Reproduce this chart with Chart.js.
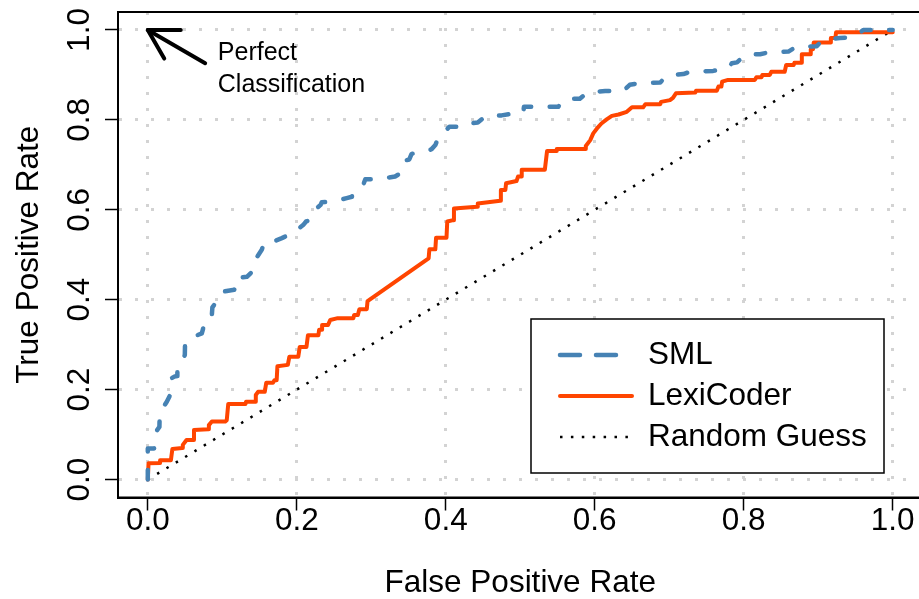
<!DOCTYPE html>
<html>
<head>
<meta charset="utf-8">
<script src="https://cdn.jsdelivr.net/npm/chart.js@4"></script>
<style>
html,body{margin:0;padding:0;background:#fff;overflow:hidden}
#wrap{width:919px;height:599px;overflow:hidden}
</style>
</head>
<body>
<div id="wrap"><canvas id="roc" width="925" height="599"></canvas></div>
<script>
// ROC curves
const smlFpr = [0, 0, 0.0085, 0.009, 0.0125, 0.0156, 0.016, 0.022, 0.0255, 0.030,
  0.0326, 0.0357, 0.0397, 0.0397, 0.0447, 0.0497, 0.050, 0.0568, 0.0635, 0.0725,
  0.0738, 0.078, 0.0813, 0.086, 0.0867, 0.094, 0.0993, 0.1015, 0.108, 0.116,
  0.119, 0.119, 0.133, 0.140, 0.144, 0.147, 0.153, 0.156, 0.159, 0.171,
  0.180, 0.1866, 0.193, 0.199, 0.2085, 0.2125, 0.218, 0.2215, 0.227, 0.232,
  0.2336, 0.247, 0.258, 0.267, 0.274, 0.275, 0.282, 0.290, 0.292, 0.302,
  0.313, 0.324, 0.332, 0.338, 0.341, 0.344, 0.351, 0.354, 0.364, 0.375,
  0.381, 0.386, 0.390, 0.393, 0.401, 0.405, 0.4165, 0.428, 0.4326, 0.443,
  0.454, 0.475, 0.486, 0.495, 0.504, 0.505, 0.551, 0.557, 0.562, 0.580,
  0.591, 0.614, 0.638, 0.647, 0.661, 0.688, 0.696, 0.719, 0.728, 0.759,
  0.779, 0.784, 0.791, 0.799, 0.804, 0.822, 0.835, 0.860, 0.870, 0.898,
  0.906, 0.929, 0.945, 0.951, 0.956, 0.9605, 1.0]
const smlTpr = [0, 0.069, 0.069, 0.088, 0.110, 0.117, 0.148, 0.164, 0.173, 0.188,
  0.226, 0.229, 0.230, 0.247, 0.261, 0.277, 0.303, 0.315, 0.319, 0.325,
  0.333, 0.359, 0.364, 0.366, 0.383, 0.399, 0.407, 0.418, 0.420, 0.422,
  0.430, 0.448, 0.451, 0.462, 0.475, 0.496, 0.511, 0.525, 0.531, 0.531,
  0.537, 0.542, 0.544, 0.554, 0.566, 0.574, 0.577, 0.586, 0.604, 0.611,
  0.617, 0.618, 0.622, 0.626, 0.629, 0.638, 0.651, 0.659, 0.668, 0.668,
  0.671, 0.672, 0.674, 0.680, 0.693, 0.709, 0.712, 0.724, 0.729, 0.731,
  0.735, 0.744, 0.760, 0.770, 0.778, 0.785, 0.785, 0.785, 0.792, 0.794,
  0.809, 0.810, 0.813, 0.815, 0.816, 0.829, 0.829, 0.842, 0.847, 0.847,
  0.862, 0.864, 0.864, 0.878, 0.882, 0.883, 0.898, 0.902, 0.907, 0.909,
  0.915, 0.926, 0.928, 0.940, 0.946, 0.946, 0.951, 0.952, 0.962, 0.964,
  0.978, 0.982, 0.984, 0.987, 0.994, 1.0, 1.0]

const lexFpr = [0, 0.001, 0.0165, 0.0165, 0.031, 0.033, 0.046, 0.047, 0.052, 0.061,
  0.062, 0.081, 0.082, 0.086, 0.104, 0.106, 0.108, 0.131, 0.132, 0.144,
  0.145, 0.148, 0.157, 0.159, 0.168, 0.170, 0.173, 0.174, 0.188, 0.190,
  0.202, 0.204, 0.213, 0.215, 0.229, 0.230, 0.234, 0.234, 0.242, 0.245,
  0.255, 0.276, 0.277, 0.282, 0.284, 0.294, 0.295, 0.377, 0.378, 0.386,
  0.387, 0.401, 0.402, 0.410, 0.411, 0.442, 0.443, 0.473, 0.474, 0.480,
  0.481, 0.495, 0.497, 0.502, 0.502, 0.533, 0.536, 0.549, 0.549, 0.587,
  0.588, 0.594, 0.598, 0.603, 0.609, 0.616, 0.623, 0.632, 0.643, 0.650,
  0.665, 0.668, 0.688, 0.689, 0.701, 0.705, 0.709, 0.735, 0.736, 0.764,
  0.766, 0.770, 0.771, 0.779, 0.815, 0.817, 0.824, 0.825, 0.835, 0.837,
  0.855, 0.857, 0.867, 0.868, 0.878, 0.878, 0.889, 0.890, 0.893, 0.894,
  0.916, 0.917, 0.923, 0.924, 1.0]
const lexTpr = [0, 0.036, 0.037, 0.043, 0.043, 0.068, 0.070, 0.077, 0.088, 0.088,
  0.110, 0.112, 0.121, 0.129, 0.129, 0.132, 0.168, 0.168, 0.173, 0.173,
  0.188, 0.195, 0.195, 0.215, 0.215, 0.221, 0.221, 0.252, 0.255, 0.273,
  0.273, 0.295, 0.295, 0.321, 0.321, 0.333, 0.333, 0.344, 0.344, 0.355,
  0.359, 0.359, 0.366, 0.366, 0.379, 0.379, 0.397, 0.492, 0.512, 0.512,
  0.538, 0.538, 0.574, 0.577, 0.603, 0.607, 0.614, 0.620, 0.644, 0.644,
  0.659, 0.664, 0.674, 0.674, 0.689, 0.689, 0.731, 0.731, 0.735, 0.735,
  0.742, 0.755, 0.770, 0.781, 0.792, 0.801, 0.809, 0.812, 0.818, 0.828,
  0.828, 0.835, 0.835, 0.840, 0.844, 0.849, 0.859, 0.861, 0.865, 0.865,
  0.874, 0.874, 0.885, 0.889, 0.889, 0.895, 0.895, 0.900, 0.900, 0.907,
  0.907, 0.922, 0.922, 0.927, 0.927, 0.946, 0.946, 0.957, 0.957, 0.972,
  0.972, 0.982, 0.982, 0.995, 0.995]

const guessFpr = [0, 1]
const guessTpr = [0, 1]

const seriesNames = ["SML", "LexiCoder", "Random Guess"]
const tickValues = [0, 0.2, 0.4, 0.6, 0.8, 1.0]

// "Perfect Classification" arrow, in data units
const arrowFrom = [0.077, 0.926]
const arrowTo = [0, 1]
const noteLines = ["Perfect", "Classification"]
const notePos = [0.094, 0.933]

const fontFamily = "'Liberation Sans', Arial, Helvetica, sans-serif"

function toPoints(xs, ys){
  return xs.map((x, i) => ({x: x, y: ys[i]}))
}

// top/right sides of the plot box
const framePlugin = {
  id: "frame",
  afterDatasetsDraw(chart){
    const a = chart.chartArea
    const ctx = chart.ctx
    ctx.save()
    ctx.strokeStyle = "#000"
    ctx.lineWidth = 2
    ctx.setLineDash([])
    ctx.strokeRect(a.left, a.top, a.right - a.left, a.bottom - a.top)
    ctx.restore()
  }
}

const notePlugin = {
  id: "note",
  afterDatasetsDraw(chart){
    const ctx = chart.ctx
    const sx = chart.scales.x, sy = chart.scales.y
    const x0 = sx.getPixelForValue(arrowFrom[0]), y0 = sy.getPixelForValue(arrowFrom[1])
    const x1 = sx.getPixelForValue(arrowTo[0]), y1 = sy.getPixelForValue(arrowTo[1])
    const ang = Math.atan2(y0 - y1, x0 - x1)
    const head = 33
    ctx.save()
    ctx.strokeStyle = "#000"
    ctx.lineWidth = 4
    ctx.lineCap = "round"
    ctx.lineJoin = "round"
    ctx.setLineDash([])
    ctx.beginPath()
    ctx.moveTo(x0, y0)
    ctx.lineTo(x1, y1)
    ctx.stroke()
    ctx.beginPath()
    ctx.moveTo(x1 + head * Math.cos(ang - Math.PI / 6), y1 + head * Math.sin(ang - Math.PI / 6))
    ctx.lineTo(x1, y1)
    ctx.lineTo(x1 + head * Math.cos(ang + Math.PI / 6), y1 + head * Math.sin(ang + Math.PI / 6))
    ctx.stroke()
    ctx.fillStyle = "#000"
    ctx.font = "25px " + fontFamily
    ctx.textBaseline = "alphabetic"
    const tx = sx.getPixelForValue(notePos[0]), ty = sy.getPixelForValue(notePos[1])
    noteLines.forEach((t, i) => ctx.fillText(t, tx, ty + i * 31.5))
    ctx.restore()
  }
}

// boxed legend, bottom right
const legendPlugin = {
  id: "boxLegend",
  afterDraw(chart){
    const ctx = chart.ctx
    ctx.save()
    ctx.fillStyle = "#fff"
    ctx.fillRect(531, 319, 353, 154)
    ctx.strokeStyle = "#000"
    ctx.lineWidth = 1.5
    ctx.setLineDash([])
    ctx.strokeRect(531, 319, 353, 154)
    chart.data.datasets.forEach((ds, i) => {
      const y = 355 + i * 41
      ctx.beginPath()
      ctx.strokeStyle = ds.borderColor
      ctx.lineWidth = ds.borderWidth
      ctx.setLineDash(ds.legendDash || ds.borderDash || [])
      ctx.lineCap = ds.borderCapStyle || "butt"
      ctx.moveTo(560, y)
      ctx.lineTo(632, y)
      ctx.stroke()
      ctx.setLineDash([])
      ctx.fillStyle = "#000"
      ctx.font = "31.5px " + fontFamily
      ctx.textBaseline = "middle"
      ctx.textAlign = "left"
      ctx.fillText(ds.label, 648, y)
    })
    ctx.restore()
  }
}

const axisFont = {family: fontFamily, size: 31.5, lineHeight: 1}

function gridStyle(){
  return {
    color: "#d3d3d3",
    lineWidth: 3,
    tickLength: 13,
    tickColor: "#000",
    tickWidth: 1.5,
    tickBorderDash: []
  }
}

// in Chart.js v4 the grid-line dash lives under border.dash
function borderStyle(){
  return {display: true, color: "#000", width: 2, dash: [3, 13], dashOffset: 0}
}

new Chart(document.getElementById("roc"), {
  type: "scatter",
  data: {
    datasets: [
      {
        label: seriesNames[0],
        data: toPoints(smlFpr, smlTpr),
        showLine: true,
        borderColor: "#4682B4",
        borderWidth: 4.5,
        borderDash: [9.5, 18.5],
        legendDash: [20, 16],
        borderCapStyle: "round",
        borderJoinStyle: "round",
        pointRadius: 0,
        tension: 0
      },
      {
        label: seriesNames[1],
        data: toPoints(lexFpr, lexTpr),
        showLine: true,
        borderColor: "#FF4500",
        borderWidth: 4,
        borderCapStyle: "round",
        borderJoinStyle: "round",
        pointRadius: 0,
        tension: 0
      },
      {
        label: seriesNames[2],
        data: toPoints(guessFpr, guessTpr),
        showLine: true,
        borderColor: "#000",
        borderWidth: 2.5,
        borderDash: [2.5, 8.4],
        pointRadius: 0,
        tension: 0
      }
    ]
  },
  options: {
    responsive: false,
    animation: false,
    devicePixelRatio: 1,
    layout: {padding: {top: 12, right: 2.5, left: 0, bottom: 0}},
    plugins: {legend: {display: false}, tooltip: {enabled: false}},
    scales: {
      x: {
        type: "linear",
        min: -0.04,
        max: 1.04,
        afterBuildTicks: s => { s.ticks = tickValues.map(v => ({value: v})) },
        afterFit: s => { s.height = 101.5; s.paddingLeft = 0; s.paddingRight = 0 },
        grid: gridStyle(),
        border: borderStyle(),
        ticks: {color: "#000", font: axisFont, padding: -5, maxRotation: 0, autoSkip: false,
          callback: v => v.toFixed(1)},
        title: {display: true, text: "False Positive Rate", color: "#000", font: axisFont,
          padding: {top: 0, bottom: 0}}
      },
      y: {
        type: "linear",
        min: -0.04,
        max: 1.04,
        afterBuildTicks: s => { s.ticks = tickValues.map(v => ({value: v})) },
        afterFit: s => { s.width = 118; s.paddingTop = 0; s.paddingBottom = 0 },
        grid: gridStyle(),
        border: borderStyle(),
        ticks: {color: "#000", font: axisFont, padding: 2.5, minRotation: 90, maxRotation: 90,
          crossAlign: "center", autoSkip: false, callback: v => v.toFixed(1)},
        title: {display: true, text: "True Positive Rate", color: "#000", font: axisFont,
          padding: {top: 13.25, bottom: 0}}
      }
    }
  },
  plugins: [framePlugin, notePlugin, legendPlugin]
})
</script>
</body>
</html>
